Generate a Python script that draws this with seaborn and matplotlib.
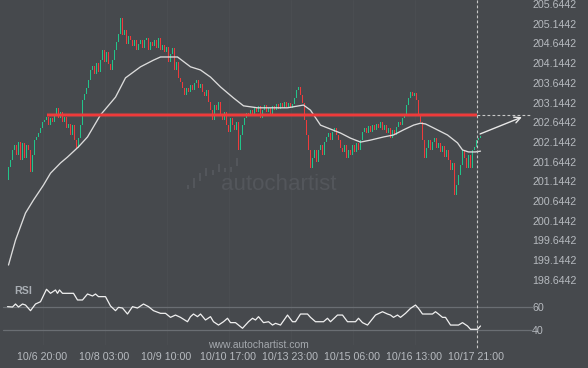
import numpy as np
import pandas as pd
import matplotlib
matplotlib.use("Agg")
import matplotlib.pyplot as plt
import matplotlib.transforms as mtransforms
from matplotlib.lines import Line2D
from matplotlib.patches import Rectangle
import seaborn as sns

# ---------------- data ----------------
first_open = 201.18
closes = [
    201.51, 201.69, 201.94, 202.07, 201.81, 202.14, 201.69, 202.12, 201.74, 202.07,
    201.94, 201.38, 201.81, 202.19, 202.27, 202.37, 202.50, 202.65, 202.70, 202.78,
    202.57, 202.75, 202.65, 202.83, 203.01, 202.75, 202.90, 202.65, 202.78, 202.50,
    202.60, 202.32, 202.57, 202.19, 201.99, 202.24, 202.57, 203.21, 203.36, 203.51,
    203.72, 203.97, 204.07, 203.87, 204.15, 203.92, 204.22, 204.48, 204.17, 204.43,
    204.12, 203.97, 204.22, 204.48, 204.68, 204.88, 205.29, 204.86, 204.99, 204.63,
    204.83, 204.73, 204.58, 204.73, 204.48, 204.63, 204.73, 204.53, 204.73, 204.78,
    204.48, 204.68, 204.58, 204.73, 204.53, 204.78, 204.48, 204.60, 204.43, 204.55,
    204.17, 204.38, 204.53, 203.97, 204.17, 203.77, 203.67, 203.51, 203.34, 203.51,
    203.41, 203.59, 203.46, 203.64, 203.72, 203.51, 203.61, 203.41, 203.31, 203.46,
    203.16, 202.95, 202.70, 203.08, 202.95, 203.16, 202.83, 202.70, 202.90, 202.57,
    202.40, 202.75, 202.57, 202.45, 202.65, 201.94, 202.32, 202.57, 202.75, 202.88,
    202.80, 202.95, 202.83, 203.01, 202.90, 203.06, 202.75, 202.95, 203.08, 202.90,
    203.01, 202.85, 203.06, 202.95, 203.11, 202.98, 203.13, 203.01, 203.16, 203.03,
    203.13, 203.01, 203.11, 203.26, 203.46, 203.54, 203.34, 203.13, 202.70, 202.32,
    201.94, 201.48, 201.74, 201.94, 201.63, 201.94, 202.07, 201.81, 202.14, 202.27,
    202.37, 202.19, 202.40, 202.50, 202.32, 202.19, 201.99, 201.89, 202.07, 201.74,
    201.94, 201.81, 202.07, 201.89, 202.12, 201.94, 202.19, 202.40, 202.50, 202.37,
    202.55, 202.40, 202.57, 202.45, 202.60, 202.50, 202.65, 202.45, 202.57, 202.37,
    202.50, 202.24, 202.45, 202.32, 202.52, 202.65, 202.57, 202.75, 202.85, 203.08,
    203.26, 203.41, 203.31, 203.39, 203.21, 202.83, 202.65, 202.19, 201.74, 201.99,
    202.19, 201.94, 202.14, 202.24, 201.99, 202.12, 201.89, 202.04, 201.76, 201.94,
    201.69, 201.43, 201.61, 200.80, 201.05, 201.30, 201.56, 201.94, 201.74, 201.48,
    201.81, 201.48, 201.94, 202.02, 202.19, 202.24, 202.29,
]

ma_idx = [0, 3.5, 8.5, 12.5, 17.5, 21, 26, 29.5, 35, 39.5,
          46, 53.5, 58.5, 66, 72.5, 76, 84.5, 91, 96, 101,
          106, 112.5, 117.5, 124.5, 139.5, 147.5, 151, 156, 159.5, 166,
          171, 176, 181, 187.5, 192.5, 197.5, 202.5, 206, 208.5, 212.5,
          219.5, 224.5, 227, 230, 233.5, 236]
ma_val = [199.02, 199.65, 200.34, 200.67, 201.05, 201.35, 201.61, 201.76, 202.02, 202.27,
          202.83, 203.28, 203.77, 204.05, 204.22, 204.30, 204.30, 204.05, 203.97, 203.79,
          203.54, 203.26, 203.06, 203.01, 203.01, 203.08, 202.95, 202.57, 202.50, 202.37,
          202.24, 202.14, 202.19, 202.27, 202.32, 202.45, 202.57, 202.62, 202.60, 202.50,
          202.32, 202.12, 201.94, 201.89, 201.89, 201.91]

rsi_idx = [-0.5, 2, 3.5, 5, 7, 8.5, 11, 13.5, 16, 19,
           21, 23.5, 24.5, 25.5, 27, 32.5, 34.5, 37, 39.5, 42,
           43.5, 45, 48.5, 51, 53.5, 55, 57, 59.5, 62, 64.5,
           67.5, 70, 72.5, 76, 78.5, 81, 83.5, 86, 89.5, 91,
           92.5, 94.5, 96, 98.5, 101, 102.5, 105, 107.5, 109.5, 111,
           113.5, 117, 120, 122, 123.5, 125, 127.5, 130, 132, 133.5,
           136, 139.5, 142, 143.5, 146, 149.5, 151, 153.5, 157.5, 159.5,
           161, 164.5, 167, 169.5, 173.5, 175, 177, 179.5, 183.5, 187,
           189.5, 191, 192.5, 194.5, 196, 198.5, 201, 203.5, 205, 207,
           212, 213.5, 215, 217, 218.5, 221, 225, 227, 229.5, 231,
           234.5, 236]
rsi_val = [60.3, 60.0, 62.6, 60.0, 62.6, 61.7, 56.8, 62.6, 64.6, 75.4,
           71.9, 74.8, 71.9, 74.8, 71.9, 71.9, 66.1, 66.1, 71.3, 69.6,
           71.3, 69.0, 69.0, 60.9, 56.8, 59.7, 59.1, 53.9, 60.3, 59.1,
           62.6, 60.3, 56.8, 54.5, 54.5, 51.0, 53.0, 51.0, 47.2, 51.6,
           53.9, 51.6, 53.9, 48.7, 51.6, 47.2, 44.3, 47.2, 50.2, 46.4,
           46.4, 41.5, 47.2, 50.2, 48.7, 51.6, 46.4, 47.2, 44.3, 45.8,
           44.3, 53.0, 47.2, 47.2, 53.9, 53.9, 51.0, 47.2, 47.2, 50.2,
           47.2, 53.0, 53.0, 47.2, 47.2, 50.2, 46.4, 44.3, 53.0, 55.9,
           53.9, 53.0, 51.0, 53.0, 51.0, 54.5, 58.8, 61.7, 58.8, 53.9,
           53.9, 55.9, 53.9, 51.0, 51.0, 44.3, 44.3, 46.4, 43.5, 40.6,
           40.6, 43.5]

level_price = 202.83
level_start = 19
last_idx = 234
target_idx = 258
target_price = 202.80
arrow_start_price = 202.32

tick_idx = [17, 48, 79, 110, 141, 172, 203, 234]
tick_labels = ["10/6 20:00", "10/8 03:00", "10/9 10:00", "10/10 17:00",
               "10/13 23:00", "10/15 06:00", "10/16 13:00", "10/17 21:00"]
price_ticks = [205.6442, 205.1442, 204.6442, 204.1442, 203.6442, 203.1442,
               202.6442, 202.1442, 201.6442, 201.1442, 200.6442, 200.1442,
               199.6442, 199.1442, 198.6442]
rsi_ticks = [40, 60]

# ---------------- style ----------------
BG = "#46494d"
TXT = "#b6babf"
GREEN = "#22c48a"
RED = "#ef3b3b"
WM = "#53565b"
sns.set_style("dark", {"axes.facecolor": BG, "figure.facecolor": BG})
plt.rcParams["font.family"] = ["Liberation Sans", "DejaVu Sans"]

W, H = 588, 368
fig = plt.figure(figsize=(W / 100, H / 100), dpi=100)
fig.patch.set_facecolor(BG)

ax = fig.add_axes([0, 1 - 285 / H, 528 / W, 285 / H])
rax = fig.add_axes([0, 1 - 345 / H, 528 / W, 60 / H])

xlim = (-4.25, 259.75)
for a in (ax, rax):
    a.set_facecolor(BG)
    a.set_xlim(*xlim)
    for s in a.spines.values():
        s.set_visible(False)
    a.tick_params(length=0)
    for t in tick_idx:
        a.axvline(t, color="#4a4d51", lw=0.8, zorder=0)

ax.set_ylim(198.513, 205.746)
rax.set_ylim(26.96, 79.13)

# watermark (behind the data)
fig.text(221 / W, 1 - 184 / H, "autochartist", color=WM, fontsize=16,
         va="center", ha="left", zorder=0)
for bx, btop, bbot in zip([187, 193, 199, 205, 212, 218, 224, 230, 236],
                          [185, 178, 173, 168, 170, 164, 168, 167, 158],
                          [189, 188, 181, 176, 175, 172, 172, 172, 166]):
    fig.add_artist(Rectangle((bx / W, 1 - bbot / H), 2.2 / W, (bbot - btop) / H,
                             transform=fig.transFigure, color=WM, lw=0, zorder=0))

# candles
df = pd.DataFrame({"idx": np.arange(len(closes)), "close": closes})
df["open"] = [first_open] + closes[:-1]
df["up"] = df["close"] >= df["open"]
for up, col in ((True, GREEN), (False, RED)):
    d = df[df["up"] == up]
    h = (d["close"] - d["open"]).values
    h = np.where(np.abs(h) < 0.02, 0.02 * np.sign(h + 1e-9), h)
    ax.bar(d["idx"], h, bottom=d["open"], width=0.5, color=col, linewidth=0, zorder=3)

# moving average
sns.lineplot(x=ma_idx, y=ma_val, ax=ax, color="#dcdcdc", lw=0.95, zorder=4)

# resistance level
ax.plot([level_start, last_idx], [level_price, level_price], color="#e04545",
        lw=3.0, alpha=0.5, zorder=5, solid_capstyle="butt")
ax.plot([level_start, last_idx], [level_price, level_price], color="#f03a3a",
        lw=1.5, zorder=5, solid_capstyle="butt")
ax.plot([last_idx, 261], [level_price, level_price], color="#c9c9c9", lw=0.8,
        ls=(0, (2.5, 2)), zorder=5, clip_on=False)

# forecast arrow
ax.annotate("", xy=(target_idx, target_price), xytext=(last_idx + 0.5, arrow_start_price),
            arrowprops=dict(arrowstyle="->", color="#e8e8e8", lw=1.0, mutation_scale=11),
            zorder=6, annotation_clip=False)

# vertical dashed line at last bar
tr = mtransforms.blended_transform_factory(ax.transData, fig.transFigure)
fig.add_artist(Line2D([last_idx, last_idx], [1.0, 1 - 350 / H], transform=tr,
                      color="#c9c9c9", lw=0.8, ls=(0, (2.5, 2)), zorder=10))

# y ticks right
ax.yaxis.tick_right()
ax.set_yticks(price_ticks)
ax.set_yticklabels([f"{v:.4f}" for v in price_ticks], color=TXT, fontsize=7.7)
ax.tick_params(axis="y", pad=3)
ax.set_xticks([])
ax.grid(False)

rax.yaxis.tick_right()
rax.set_yticks(rsi_ticks)
rax.set_yticklabels([str(v) for v in rsi_ticks], color=TXT, fontsize=7.7)
rax.tick_params(axis="y", pad=3)
rax.set_xticks(tick_idx)
rax.set_xticklabels(tick_labels, color=TXT, fontsize=7.7)
rax.tick_params(axis="x", pad=5)
rax.grid(False)
for v in rsi_ticks:
    rax.plot([xlim[0] + 1.5, 262], [v, v], color="#6a6e73", lw=0.9, zorder=1, clip_on=False)

sns.lineplot(x=rsi_idx, y=rsi_val, ax=rax, color="#f0f0f0", lw=0.9, zorder=4)
rax.set_xlabel("")
rax.set_ylabel("")
ax.set_xlabel("")
ax.set_ylabel("")

ax.patch.set_alpha(0)
fig.text(14 / W, 1 - 291 / H, "RSI", color="#a9aeb4", fontsize=7.7,
         fontweight="bold", va="center", ha="left")
fig.text(258 / W, 1 - 345 / H, "www.autochartist.com", color="#a4a8ad",
         fontsize=7.5, va="center", ha="center")

fig.savefig("out.png", dpi=100, facecolor=BG)
